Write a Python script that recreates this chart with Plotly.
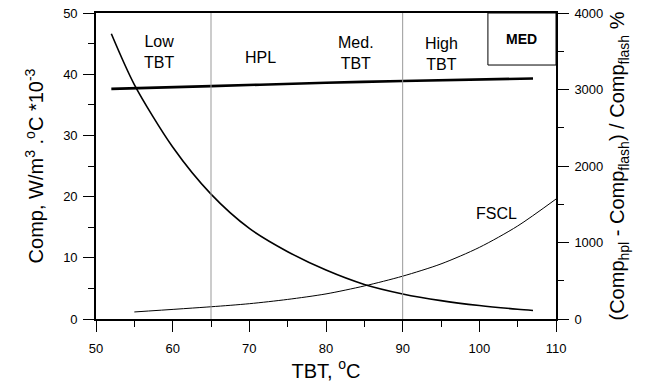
import plotly.graph_objects as go

# Data
tbt_fall = [52, 55, 60, 65, 70, 75, 80, 85, 90, 95, 100, 105, 107]
comp_fall = [46.6, 38.3, 28.1, 20.4, 14.8, 11.0, 8.0, 5.65, 4.1, 3.0, 2.2, 1.6, 1.4]

tbt_fscl = [55, 65, 70, 75, 80, 85, 90, 95, 100, 105, 110]
comp_fscl = [1.15, 2.0, 2.5, 3.2, 4.1, 5.4, 7.0, 9.0, 11.7, 15.2, 19.6]

tbt_thick = [52, 65, 80, 90, 107]
pct_thick = [3008, 3044, 3088, 3112, 3144]  # right axis, %

region_x = [58.2, 71.4, 83.9, 95.0]
region_y = [43.6, 42.8, 43.5, 43.3]
region_txt = ["Low<br>TBT", "HPL", "Med.<br>TBT", "High<br>TBT"]
divider_x = [65, 90]

font = "Liberation Sans, Arial, sans-serif"

fig = go.Figure()
fig.add_trace(go.Scatter(x=tbt_fall, y=comp_fall, mode="lines", line=dict(color="black", width=1.6, shape="spline", smoothing=0.8), showlegend=False))
fig.add_trace(go.Scatter(x=tbt_fscl, y=comp_fscl, mode="lines", line=dict(color="black", width=1, shape="spline", smoothing=0.8), showlegend=False))
fig.add_trace(go.Scatter(x=tbt_thick, y=pct_thick, mode="lines", yaxis="y2", line=dict(color="black", width=2.6, shape="spline"), showlegend=False))

for xv in divider_x:
    fig.add_shape(type="line", x0=xv, x1=xv, y0=0, y1=50, xref="x", yref="y", line=dict(color="#999999", width=1))

for xv, yv, t in zip(region_x, region_y, region_txt):
    fig.add_annotation(x=xv, y=yv, text=t, showarrow=False, font=dict(size=16, color="black", family=font))

fig.add_annotation(x=102.3, y=17.3, text="FSCL", showarrow=False, font=dict(size=16, color="black", family=font))

fig.add_shape(type="rect", xref="paper", yref="paper", x0=0.852, x1=1.0, y0=0.830, y1=1.0, line=dict(color="black", width=1))
fig.add_annotation(xref="paper", yref="paper", x=0.926, y=0.915, xanchor="center", yanchor="middle",
                   text="<b>MED</b>", showarrow=False, font=dict(size=14, color="black", family=font))

axis_common = dict(showline=True, linecolor="black", linewidth=1.6, ticks="outside", tickcolor="black", tickwidth=1.3,
                   ticklen=11, showgrid=False, zeroline=False, automargin=False,
                   tickfont=dict(size=13, color="black", family=font))

fig.update_layout(
    width=656, height=382,
    margin=dict(l=96, r=100, t=13, b=63, autoexpand=False),
    plot_bgcolor="white", paper_bgcolor="white",
    font=dict(family=font, color="black"),
    xaxis=dict(range=[50, 110], dtick=10, tick0=50, mirror=True, ticklabelstandoff=6,
               minor=dict(dtick=5, ticklen=6, tickcolor="black", ticks="outside"),
               title=dict(text="TBT, <sup>o</sup>C", font=dict(size=20, family=font), standoff=0),
               **axis_common),
    yaxis=dict(range=[0, 50], dtick=10, mirror=True, ticklabelstandoff=3,
               minor=dict(dtick=5, ticklen=6, tickcolor="black", ticks="outside"),
               title=dict(text="Comp, W/m<sup>3</sup> .<sup>o</sup>C *10<sup>-3</sup>", font=dict(size=20, family=font), standoff=14),
               **axis_common),
    yaxis2=dict(range=[0, 4000], dtick=1000, overlaying="y", side="right", ticklabelstandoff=3,
                minor=dict(dtick=500, ticklen=6, tickcolor="black", ticks="outside"),
                title=dict(text="(Comp<sub>hpl</sub> - Comp<sub>flash</sub>) / Comp<sub>flash</sub> %", font=dict(size=20, family=font), standoff=8),
                **axis_common),
)

fig.write_html("out.html")
